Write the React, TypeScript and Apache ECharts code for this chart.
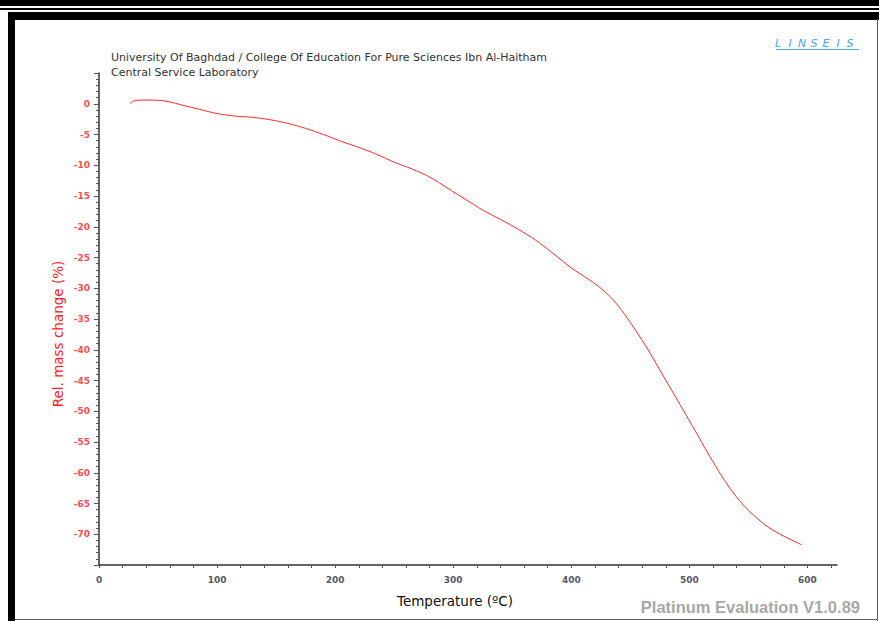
import React, { useEffect, useRef } from "react";
import * as echarts from "echarts";

// TGA curve: temperature (°C) vs relative mass change (%)
const temperature = [
  26.5, 28, 31, 40, 52, 60, 70, 85, 100, 115, 130, 145, 160, 175, 190, 205, 220,
  235, 250, 265, 280, 295, 310, 325, 340, 355, 370, 385, 400, 415, 425, 435, 445,
  455, 465, 475, 485, 495, 505, 515, 525, 535, 545, 555, 565, 575, 585, 595,
];
const massChange = [
  0.0, 0.3, 0.55, 0.6, 0.55, 0.3, -0.2, -0.9, -1.6, -2.0, -2.2, -2.6, -3.2, -4.0,
  -5.0, -6.1, -7.1, -8.2, -9.5, -10.6, -11.9, -13.7, -15.5, -17.3, -18.8, -20.4,
  -22.2, -24.4, -26.7, -28.6, -30.0, -31.8, -34.2, -37.0, -40.0, -43.3, -46.6,
  -49.9, -53.2, -56.6, -59.8, -62.7, -65.1, -67.0, -68.6, -69.8, -70.8, -71.7,
];

const xLabelValues = [0, 100, 200, 300, 400, 500, 600];
const yLabelValues = [0, -5, -10, -15, -20, -25, -30, -35, -40, -45, -50, -55, -60, -65, -70];

const titleLines = [
  "University Of Baghdad / College Of Education For Pure Sciences Ibn Al-Haitham",
  "Central Service Laboratory",
];
const xAxisTitle = "Temperature (ºC)";
const yAxisTitle = "Rel. mass change (%)";
const brandLetters = ["L", "I", "N", "S", "E", "I", "S"];

export default function App() {
  const ref = useRef<HTMLDivElement>(null);

  useEffect(() => {
    if (!ref.current) return;
    const chart = echarts.init(ref.current, null, { renderer: "svg" });
    const points = temperature.map((t, i) => [t, massChange[i]]);

    const brand = brandLetters.map((ch, i) => ({
      type: "text",
      x: 778 + i * 12,
      y: 43,
      style: {
        text: ch,
        fill: "#4da6e0",
        font: "italic 11px 'DejaVu Sans'",
        align: "center",
        verticalAlign: "middle",
      },
    }));

    chart.setOption({
      animation: false,
      backgroundColor: "#ffffff",
      grid: { left: 99, top: 73, right: 42, bottom: 56, containLabel: false },
      xAxis: {
        type: "value",
        min: 0,
        max: 625,
        interval: 20,
        axisLine: { onZero: false, lineStyle: { color: "#333", width: 1.5 } },
        axisTick: { inside: false, length: 3, lineStyle: { color: "#555" } },
        axisLabel: {
          color: "#555a66",
          fontSize: 9,
          fontWeight: "bold",
          fontFamily: "DejaVu Sans",
          margin: 10,
          showMaxLabel: false,
          formatter: (v: number) => (xLabelValues.includes(v) ? String(v) : ""),
        },
        splitLine: { show: false },
      },
      yAxis: {
        type: "value",
        min: -75,
        max: 5,
        interval: 5,
        axisLine: { onZero: false, lineStyle: { color: "#333", width: 1.5 } },
        axisTick: { inside: false, length: 5, lineStyle: { color: "#555" } },
        minorTick: { show: true, splitNumber: 5, length: 3, lineStyle: { color: "#555" } },
        axisLabel: {
          color: "#ff4d4d",
          fontSize: 9,
          fontWeight: "bold",
          fontFamily: "DejaVu Sans",
          margin: 9,
          formatter: (v: number) => (yLabelValues.includes(v) ? String(v) : ""),
        },
        splitLine: { show: false },
      },
      series: [
        {
          type: "line",
          data: points,
          showSymbol: false,
          smooth: 0.3,
          lineStyle: { color: "#ff2a2a", width: 1 },
        },
      ],
      graphic: [
        // outer window bands
        { type: "rect", shape: { x: 0, y: 0, width: 879, height: 6 }, style: { fill: "#000" } },
        { type: "rect", shape: { x: 0, y: 8, width: 879, height: 2 }, style: { fill: "#000" } },
        { type: "rect", shape: { x: 8, y: 12, width: 871, height: 8 }, style: { fill: "#000" } },
        { type: "rect", shape: { x: 8, y: 12, width: 7, height: 609 }, style: { fill: "#000" } },
        { type: "line", shape: { x1: 877.5, y1: 19, x2: 877.5, y2: 621 }, style: { stroke: "#555", lineWidth: 1 } },
        { type: "line", shape: { x1: 15, y1: 619.5, x2: 878, y2: 619.5 }, style: { stroke: "#666", lineWidth: 1 } },
        // header
        {
          type: "text",
          x: 111,
          y: 57,
          style: { text: titleLines[0], fill: "#333", font: "11px 'DejaVu Sans'", verticalAlign: "middle" },
        },
        {
          type: "text",
          x: 111,
          y: 72,
          style: { text: titleLines[1], fill: "#333", font: "11px 'DejaVu Sans'", verticalAlign: "middle" },
        },
        // axis titles
        {
          type: "text",
          x: 58,
          y: 334,
          rotation: Math.PI / 2,
          style: {
            text: yAxisTitle,
            fill: "#ff2020",
            font: "13.5px 'DejaVu Sans'",
            align: "center",
            verticalAlign: "middle",
          },
        },
        {
          type: "text",
          x: 455,
          y: 601,
          style: {
            text: xAxisTitle,
            fill: "#111",
            font: "13.5px 'DejaVu Sans'",
            align: "center",
            verticalAlign: "middle",
          },
        },
        // brand mark
        ...brand,
        { type: "line", shape: { x1: 776, y1: 49.5, x2: 859, y2: 49.5 }, style: { stroke: "#4da6e0", lineWidth: 1 } },
        // footer
        {
          type: "text",
          x: 860,
          y: 607,
          style: {
            text: "Platinum Evaluation V1.0.89",
            fill: "#a8a8a8",
            font: "bold 16.5px 'Liberation Sans'",
            align: "right",
            verticalAlign: "middle",
          },
        },
      ],
    });

    return () => chart.dispose();
  }, []);

  return (
    <div
      ref={ref}
      style={{ position: "absolute", left: 0, top: 0, width: 879, height: 621 }}
    />
  );
}
